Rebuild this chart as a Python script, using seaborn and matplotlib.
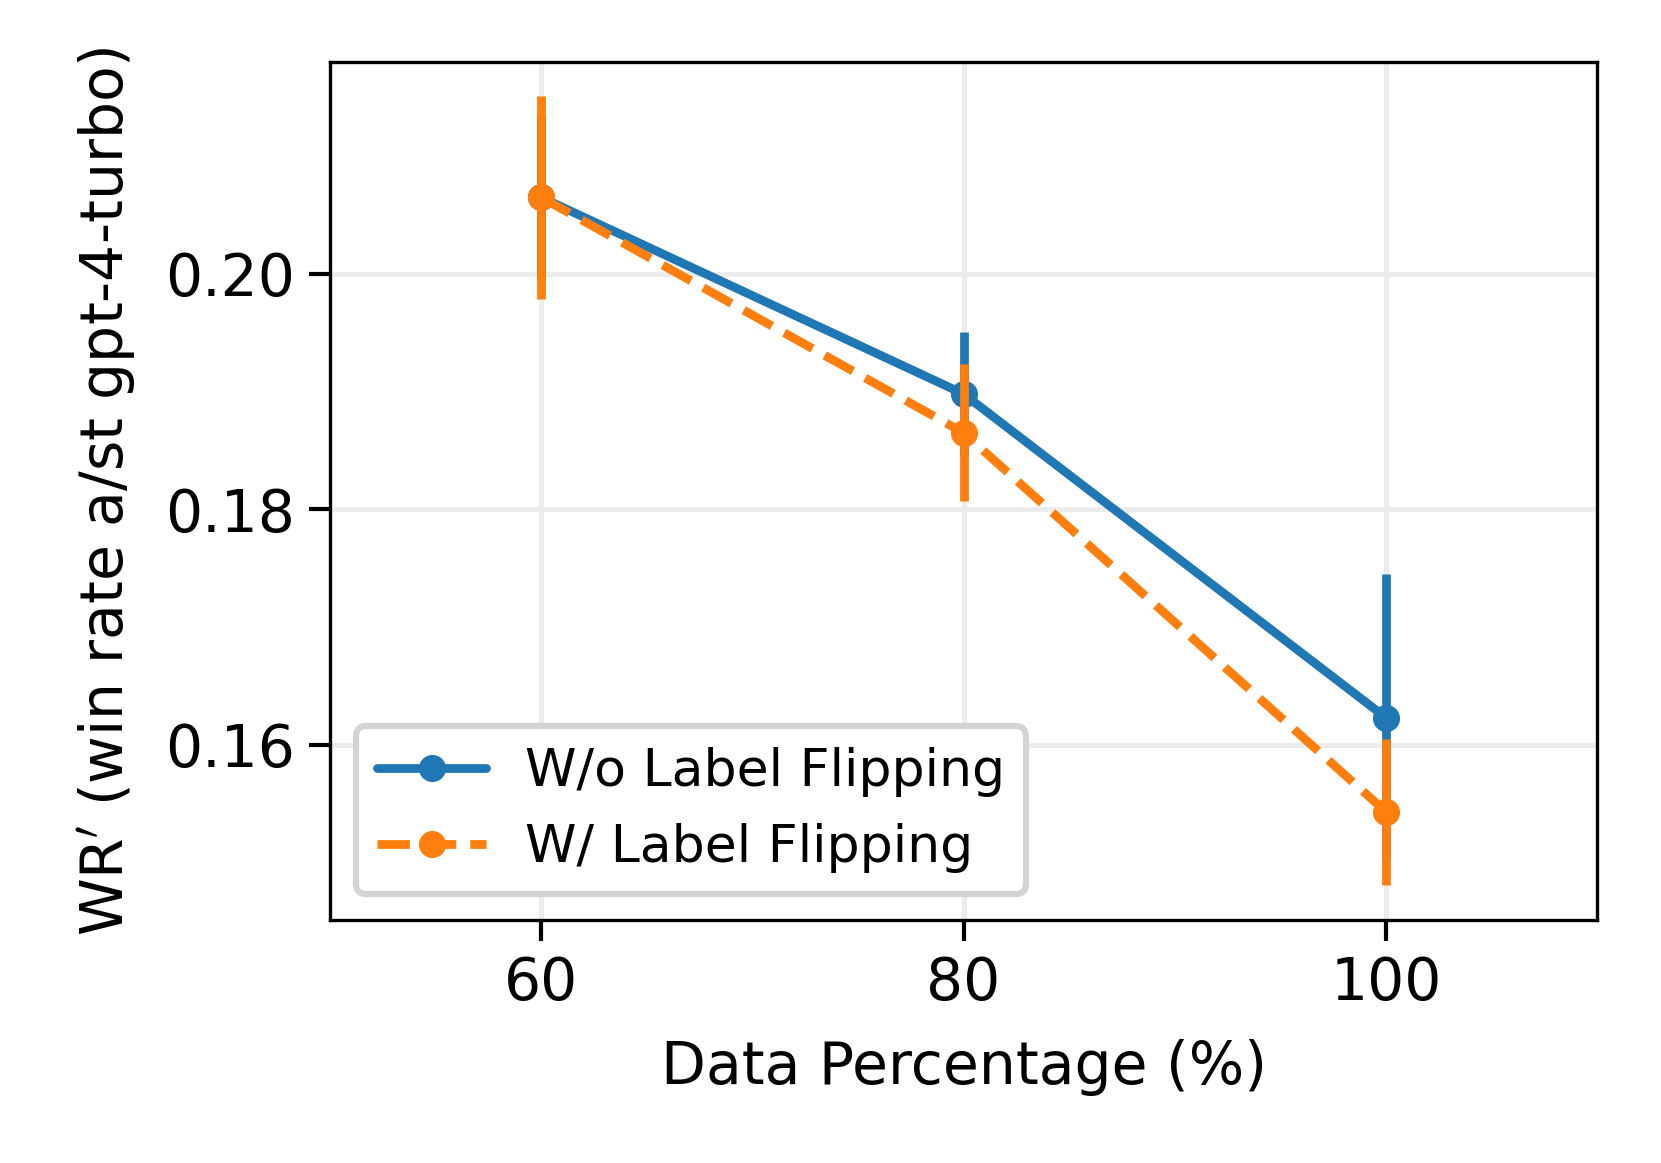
import numpy as np
import pandas as pd
import seaborn as sns
import matplotlib
matplotlib.use("Agg")
import matplotlib.pyplot as plt

data_pct = [60, 80, 100]
wo_flip_mean = [0.2065, 0.1898, 0.1623]
wo_flip_err = [0.0070, 0.0053, 0.0122]
w_flip_mean = [0.2065, 0.1865, 0.1543]
w_flip_err = [0.0086, 0.0058, 0.0062]
series_names = ["W/o Label Flipping", "W/ Label Flipping"]

sns.set_style("ticks")
plt.rcParams["font.family"] = ["DejaVu Sans"]
plt.rcParams["text.color"] = "black"
plt.rcParams["axes.labelcolor"] = "black"
plt.rcParams["xtick.color"] = "black"
plt.rcParams["ytick.color"] = "black"

df = pd.DataFrame({
    "x": data_pct * 2,
    "y": wo_flip_mean + w_flip_mean,
    "err": wo_flip_err + w_flip_err,
    "series": [series_names[0]] * 3 + [series_names[1]] * 3,
})

colors = ["#1f77b4", "#ff7f0e"]
styles = ["-", "--"]

fig = plt.figure(figsize=(1661 / 300, 1163 / 300), dpi=300)
ax = fig.add_axes([330 / 1661, 1 - 920 / 1163, (1597 - 330) / 1661, (920 - 62) / 1163])

for name, c, ls in zip(series_names, colors, styles):
    sub = df[df["series"] == name]
    sns.lineplot(data=sub, x="x", y="y", ax=ax, color=c, linestyle=ls,
                 linewidth=2.1, marker="o", markersize=6.5, markeredgewidth=0,
                 label=name, zorder=3)
    ax.errorbar(sub["x"], sub["y"], yerr=sub["err"], fmt="none",
                ecolor=c, elinewidth=2.1, capsize=0, zorder=3)

ax.set_xlim(50, 110)
ax.set_ylim(0.1451, 0.218)
ax.set_xticks([60, 80, 100])
ax.set_yticks([0.16, 0.18, 0.20])
ax.set_yticklabels(["0.16", "0.18", "0.20"])
ax.grid(True, color="#ececec", linewidth=1.2)
ax.set_axisbelow(True)
for s in ax.spines.values():
    s.set_visible(True)
    s.set_linewidth(0.8)
    s.set_color("black")
ax.tick_params(axis="both", labelsize=14, length=5, width=1)
ax.set_xlabel("Data Percentage (%)", fontsize=14, labelpad=6.5)
ax.set_ylabel(r"WR$'$ (win rate a/st gpt-4-turbo)", fontsize=14, labelpad=6.5)

leg = ax.legend(loc="lower left", fontsize=12.5, frameon=True, fancybox=True,
                borderpad=0.4, handlelength=2.1, handletextpad=0.75)
leg.get_frame().set_edgecolor("#d4d4d4")
leg.get_frame().set_linewidth(1.5)
leg.get_frame().set_alpha(1.0)

fig.savefig("out.png", dpi=300)
